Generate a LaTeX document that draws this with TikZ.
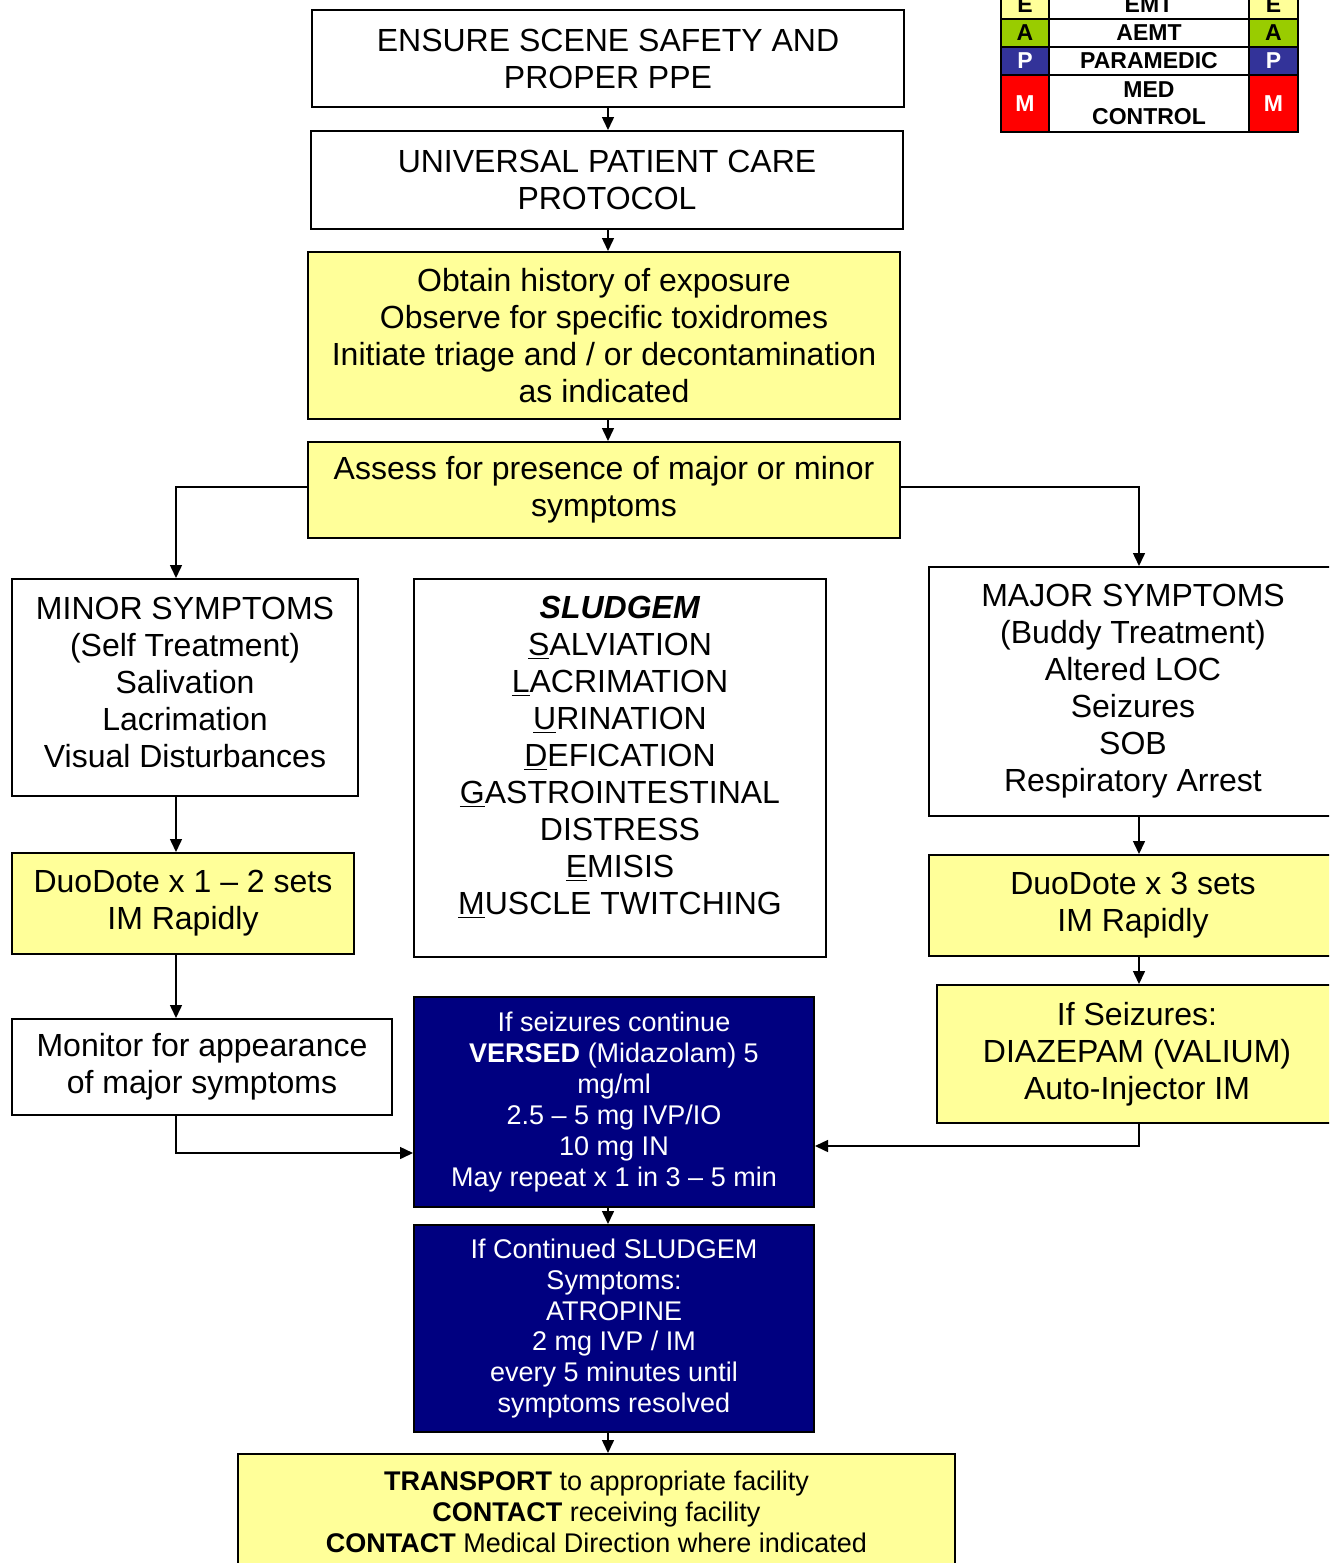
\documentclass[tikz,border=0pt]{standalone}
\usepackage{fontspec}
\setmainfont{Liberation Sans}
\usetikzlibrary{arrows.meta}
\definecolor{pyellow}{HTML}{FFFF99}
\definecolor{pnavy}{HTML}{000080}
\definecolor{lgreen}{HTML}{99CC00}
\definecolor{lblue}{HTML}{333399}
\definecolor{lred}{HTML}{FF0000}
\tikzset{
  box/.style={draw, line width=1pt, align=center, inner sep=0pt, anchor=center,
    font=\fontsize{16}{18.5}\selectfont},
  ybox/.style={box, fill=pyellow},
  nbox/.style={box, fill=pnavy, text=white, font=\fontsize{13.5}{15.5}\selectfont},
  arr/.style={line width=0.75pt, -{Triangle[width=6pt,length=6.5pt]}},
  leg/.style={draw, line width=1.25pt, inner sep=0pt, anchor=center, align=center,
    font=\bfseries\fontsize{11.5}{13.5}\selectfont},
}
\begin{document}
\begin{tikzpicture}[x=0.5pt,y=-0.5pt]
\useasboundingbox (0,0) rectangle (1329,1563);
\clip (0,0) rectangle (1329,1563);
\fill[white] (0,0) rectangle (1329,1563);

% main column
\node[box, minimum width=296pt, minimum height=48.5pt] (b1) at (608,58.5)
  {ENSURE SCENE SAFETY AND\\PROPER PPE};
\node[box, minimum width=296pt, minimum height=49pt] (b2) at (607,180)
  {UNIVERSAL PATIENT CARE\\PROTOCOL};
\node[ybox, minimum width=296pt, minimum height=83.5pt] (b3) at (604,335.5)
  {Obtain history of exposure\\Observe for specific toxidromes\\Initiate triage and / or decontamination\\as indicated};
\node[ybox, minimum width=296pt, minimum height=48pt] (b4) at (604,490)
  {Assess for presence of major or minor\\symptoms};

% left column
\node[box, minimum width=173pt, minimum height=108.5pt] (minor) at (185,687.5)
  {MINOR SYMPTOMS\\(Self Treatment)\\Salivation\\Lacrimation\\Visual Disturbances\\[-13.5pt]};
\node[ybox, minimum width=171pt, minimum height=50.5pt] (duo1) at (183,903.5)
  {DuoDote x 1 – 2 sets\\IM Rapidly};
\node[box, minimum width=190pt, minimum height=48pt] (mon) at (202,1067)
  {Monitor for appearance\\of major symptoms};

% middle
\node[box, minimum width=206pt, minimum height=189pt] (slud) at (620,768)
  {\textbf{\textit{SLUDGEM}}\\\underline{S}ALVIATION\\\underline{L}ACRIMATION\\\underline{U}RINATION\\\underline{D}EFICATION\\\underline{G}ASTROINTESTINAL\\DISTRESS\\\underline{E}MISIS\\\underline{M}USCLE TWITCHING\\[-6pt]};
\node[nbox, minimum width=200pt, minimum height=105pt] (vers) at (614,1102)
  {If seizures continue\\\textbf{VERSED} (Midazolam) 5\\mg/ml\\2.5 – 5 mg IVP/IO\\10 mg IN\\May repeat x 1 in 3 – 5 min};
\node[nbox, minimum width=200pt, minimum height=103.5pt] (atro) at (614,1328.5)
  {If Continued SLUDGEM\\Symptoms:\\ATROPINE\\2 mg IVP / IM\\every 5 minutes until\\symptoms resolved};
\node[ybox, minimum width=358.5pt, minimum height=58pt, font=\fontsize{13.5}{15.5}\selectfont] (trans) at (596.5,1512)
  {\textbf{TRANSPORT} to appropriate facility\\\textbf{CONTACT} receiving facility\\\textbf{CONTACT} Medical Direction where indicated};

% right column
\node[box, minimum width=204pt, minimum height=124.5pt] (major) at (1133,691.5)
  {MAJOR SYMPTOMS\\(Buddy Treatment)\\Altered LOC\\Seizures\\SOB\\Respiratory Arrest};
\node[ybox, minimum width=204pt, minimum height=50.5pt] (duo3) at (1133,905.5)
  {DuoDote x 3 sets\\IM Rapidly};
\node[ybox, minimum width=200pt, minimum height=69pt] (seiz) at (1137,1054)
  {If Seizures:\\DIAZEPAM (VALIUM)\\Auto-Injector IM};

% legend
\node[leg, fill=pyellow, minimum width=24pt, minimum height=14pt] (le1) at (1025,5) {E};
\node[leg, fill=white, minimum width=100pt, minimum height=14pt] (lm1) at (1149,5) {EMT};
\node[leg, fill=pyellow, minimum width=24.5pt, minimum height=14pt] (lr1) at (1273.5,5) {E};
\node[leg, fill=lgreen, minimum width=24pt, minimum height=14pt] (le2) at (1025,33) {A};
\node[leg, fill=white, minimum width=100pt, minimum height=14pt] (lm2) at (1149,33) {AEMT};
\node[leg, fill=lgreen, minimum width=24.5pt, minimum height=14pt] (lr2) at (1273.5,33) {A};
\node[leg, fill=lblue, text=white, minimum width=24pt, minimum height=14pt] (le3) at (1025,61) {P};
\node[leg, fill=white, minimum width=100pt, minimum height=14pt] (lm3) at (1149,61) {PARAMEDIC};
\node[leg, fill=lblue, text=white, minimum width=24.5pt, minimum height=14pt] (lr3) at (1273.5,61) {P};
\node[leg, fill=lred, text=white, minimum width=24pt, minimum height=28.5pt] (le4) at (1025,103.5) {M};
\node[leg, fill=white, minimum width=100pt, minimum height=28.5pt] (lm4) at (1149,103.5) {MED\\CONTROL};
\node[leg, fill=lred, text=white, minimum width=24.5pt, minimum height=28.5pt] (lr4) at (1273.5,103.5) {M};

% guide coordinates
\coordinate (mx) at (608,0);
\coordinate (lx) at (176,0);
\coordinate (rx) at (1139,0);
\coordinate (hy) at (0,487);
\coordinate (ly) at (0,1153);
\coordinate (ry) at (0,1146);

% connectors
\draw[arr] (mx |- b1.south) -- (mx |- b2.north);
\draw[arr] (mx |- b2.south) -- (mx |- b3.north);
\draw[arr] (mx |- b3.south) -- (mx |- b4.north);
\draw[arr] (b4.west |- hy) -| (lx |- minor.north);
\draw[arr] (b4.east |- hy) -| (rx |- major.north);
\draw[arr] (lx |- minor.south) -- (lx |- duo1.north);
\draw[arr] (lx |- duo1.south) -- (lx |- mon.north);
\draw[arr] (lx |- mon.south) |- (vers.west |- ly);
\draw[arr] (rx |- major.south) -- (rx |- duo3.north);
\draw[arr] (rx |- duo3.south) -- (rx |- seiz.north);
\draw[arr] (rx |- seiz.south) |- (vers.east |- ry);
\draw[arr] (mx |- vers.south) -- (mx |- atro.north);
\draw[arr] (mx |- atro.south) -- (mx |- trans.north);
\end{tikzpicture}
\end{document}
